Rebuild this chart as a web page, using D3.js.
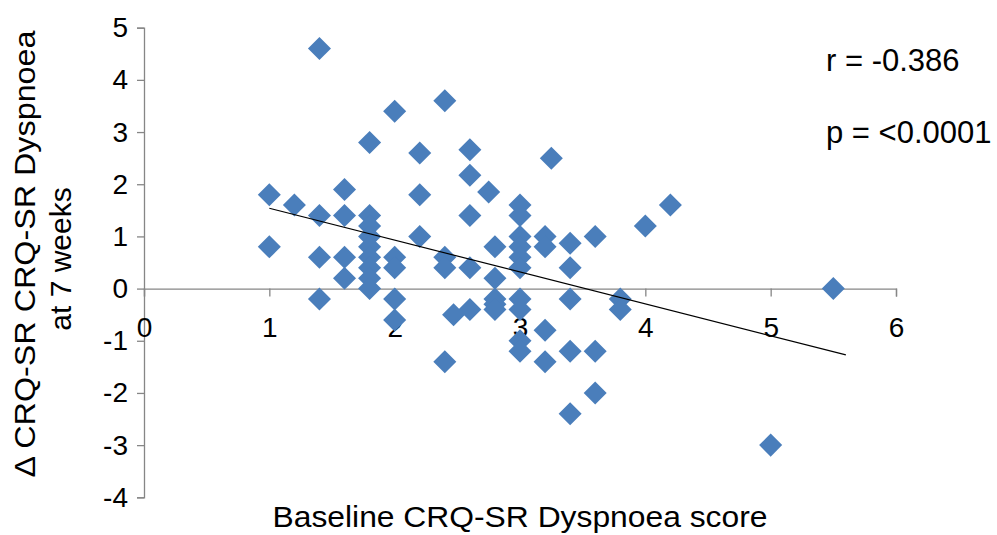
<!DOCTYPE html>
<html>
<head>
<meta charset="utf-8">
<script src="https://cdn.jsdelivr.net/npm/d3@7"></script>
<style>
  body { margin: 0; background: #fff; }
  svg text { font-family: Arial, "Liberation Sans", sans-serif; fill: #000; }
</style>
</head>
<body>
<svg id="chart" width="997" height="535"></svg>
<script>
// Baseline score (x) vs change at 7 weeks (y)
var baseline = [1.4, 2.4, 2.0, 1.8, 2.2, 2.6, 3.25, 2.6, 1.6, 2.75, 1.0, 2.2, 1.2, 3.0, 4.2,
                1.4, 1.6, 1.8, 2.6, 3.0, 1.8, 4.0, 1.8, 2.2, 3.0, 3.2, 3.6, 1.0, 1.8, 2.8,
                3.0, 3.2, 3.4, 1.4, 1.6, 1.8, 2.0, 2.4, 3.0, 1.8, 2.0, 2.4, 2.6, 3.0, 3.4,
                1.6, 1.8, 2.8, 1.8, 5.5, 1.4, 2.0, 2.8, 3.0, 3.4, 3.8, 2.6, 2.8, 2.8, 3.0,
                3.8, 2.47, 2.0, 3.2, 3.0, 3.0, 3.4, 3.6, 2.4, 3.2, 3.6, 3.4, 5.0];
var change   = [4.6, 3.6, 3.4, 2.8, 2.6, 2.66, 2.5, 2.17, 1.9, 1.85, 1.8, 1.8, 1.6, 1.6, 1.6,
                1.4, 1.4, 1.4, 1.4, 1.4, 1.2, 1.2, 1.0, 1.0, 1.0, 1.0, 1.0, 0.8, 0.8, 0.8,
                0.8, 0.8, 0.87, 0.6, 0.6, 0.6, 0.6, 0.6, 0.6, 0.4, 0.4, 0.4, 0.4, 0.4, 0.4,
                0.2, 0.2, 0.2, 0.0, 0.0, -0.2, -0.2, -0.2, -0.2, -0.2, -0.2, -0.4, -0.3, -0.4, -0.4,
                -0.4, -0.5, -0.6, -0.8, -1.0, -1.2, -1.2, -1.2, -1.4, -1.4, -2.0, -2.4, -3.0];

// linear trendline end points
var trendX = [1.0, 5.6];
var trendY = [1.54, -1.27];

var xTicks = [0, 1, 2, 3, 4, 5, 6];
var yTicks = [-4, -3, -2, -1, 0, 1, 2, 3, 4, 5];

var svg = d3.select('#chart'),
    plotLeft = 144, plotRight = 896, plotTop = 27.7, plotBottom = 497.3;

var x = d3.scaleLinear().domain([0, 6]).range([plotLeft, plotRight]),
    y = d3.scaleLinear().domain([-4, 5]).range([plotBottom, plotTop]);

var fmt = d3.format('d');

// y axis
var gy = svg.append('g')
    .attr('transform', 'translate(' + plotLeft + ',0)')
    .call(d3.axisLeft(y).tickValues(yTicks).tickSize(7).tickPadding(9).tickFormat(fmt));
gy.select('.domain').attr('stroke', '#868686').attr('stroke-width', 1.3);
gy.selectAll('.tick line').attr('stroke', '#868686').attr('stroke-width', 1.3);
gy.selectAll('.tick text')
    .style('font-family', 'Arial, "Liberation Sans", sans-serif')
    .style('font-size', '28px').attr('fill', '#000')
    .text(function (d) { return d < 0 ? '-' + Math.abs(d) : d; }); // plain hyphen, not minus sign

// x axis sits on y = 0
var gx = svg.append('g')
    .attr('transform', 'translate(0,' + y(0) + ')')
    .call(d3.axisBottom(x).tickValues(xTicks).tickSize(8).tickPadding(21).tickSizeOuter(8).tickFormat(fmt));
gx.select('.domain').attr('stroke', '#868686').attr('stroke-width', 1.3);
gx.selectAll('.tick line').attr('stroke', '#868686').attr('stroke-width', 1.3);
gx.selectAll('.tick text')
    .style('font-family', 'Arial, "Liberation Sans", sans-serif')
    .style('font-size', '28px').attr('fill', '#000');

// points (diamonds = rotated squares)
var diamond = d3.symbol().type(d3.symbolSquare).size(265);
svg.append('g').selectAll('path')
    .data(d3.range(baseline.length))
    .enter().append('path')
    .attr('d', diamond)
    .attr('transform', function (i) {
        return 'translate(' + x(baseline[i]) + ',' + y(change[i]) + ') rotate(45)';
    })
    .attr('fill', '#4A7EBB');

// trendline
svg.append('line')
    .attr('x1', x(trendX[0])).attr('y1', y(trendY[0]))
    .attr('x2', x(trendX[1])).attr('y2', y(trendY[1]))
    .attr('stroke', '#000').attr('stroke-width', 1.2);

// annotations
svg.append('text').attr('x', 826).attr('y', 71).style('font-size', '31px').text('r = -0.386');
svg.append('text').attr('x', 826).attr('y', 143).style('font-size', '31px').text('p = <0.0001');

// axis titles
svg.append('text')
    .attr('x', 520).attr('y', 527)
    .attr('text-anchor', 'middle')
    .attr('textLength', 495).attr('lengthAdjust', 'spacingAndGlyphs')
    .style('font-size', '29px')
    .text('Baseline CRQ-SR Dyspnoea score');

svg.append('text')
    .attr('transform', 'translate(35,254) rotate(-90)')
    .attr('text-anchor', 'middle')
    .attr('textLength', 447).attr('lengthAdjust', 'spacingAndGlyphs')
    .style('font-size', '30px')
    .text('\u0394 CRQ-SR CRQ-SR Dyspnoea');

svg.append('text')
    .attr('transform', 'translate(71,259) rotate(-90)')
    .attr('text-anchor', 'middle')
    .style('font-size', '30px')
    .text('at 7 weeks');
</script>
</body>
</html>
